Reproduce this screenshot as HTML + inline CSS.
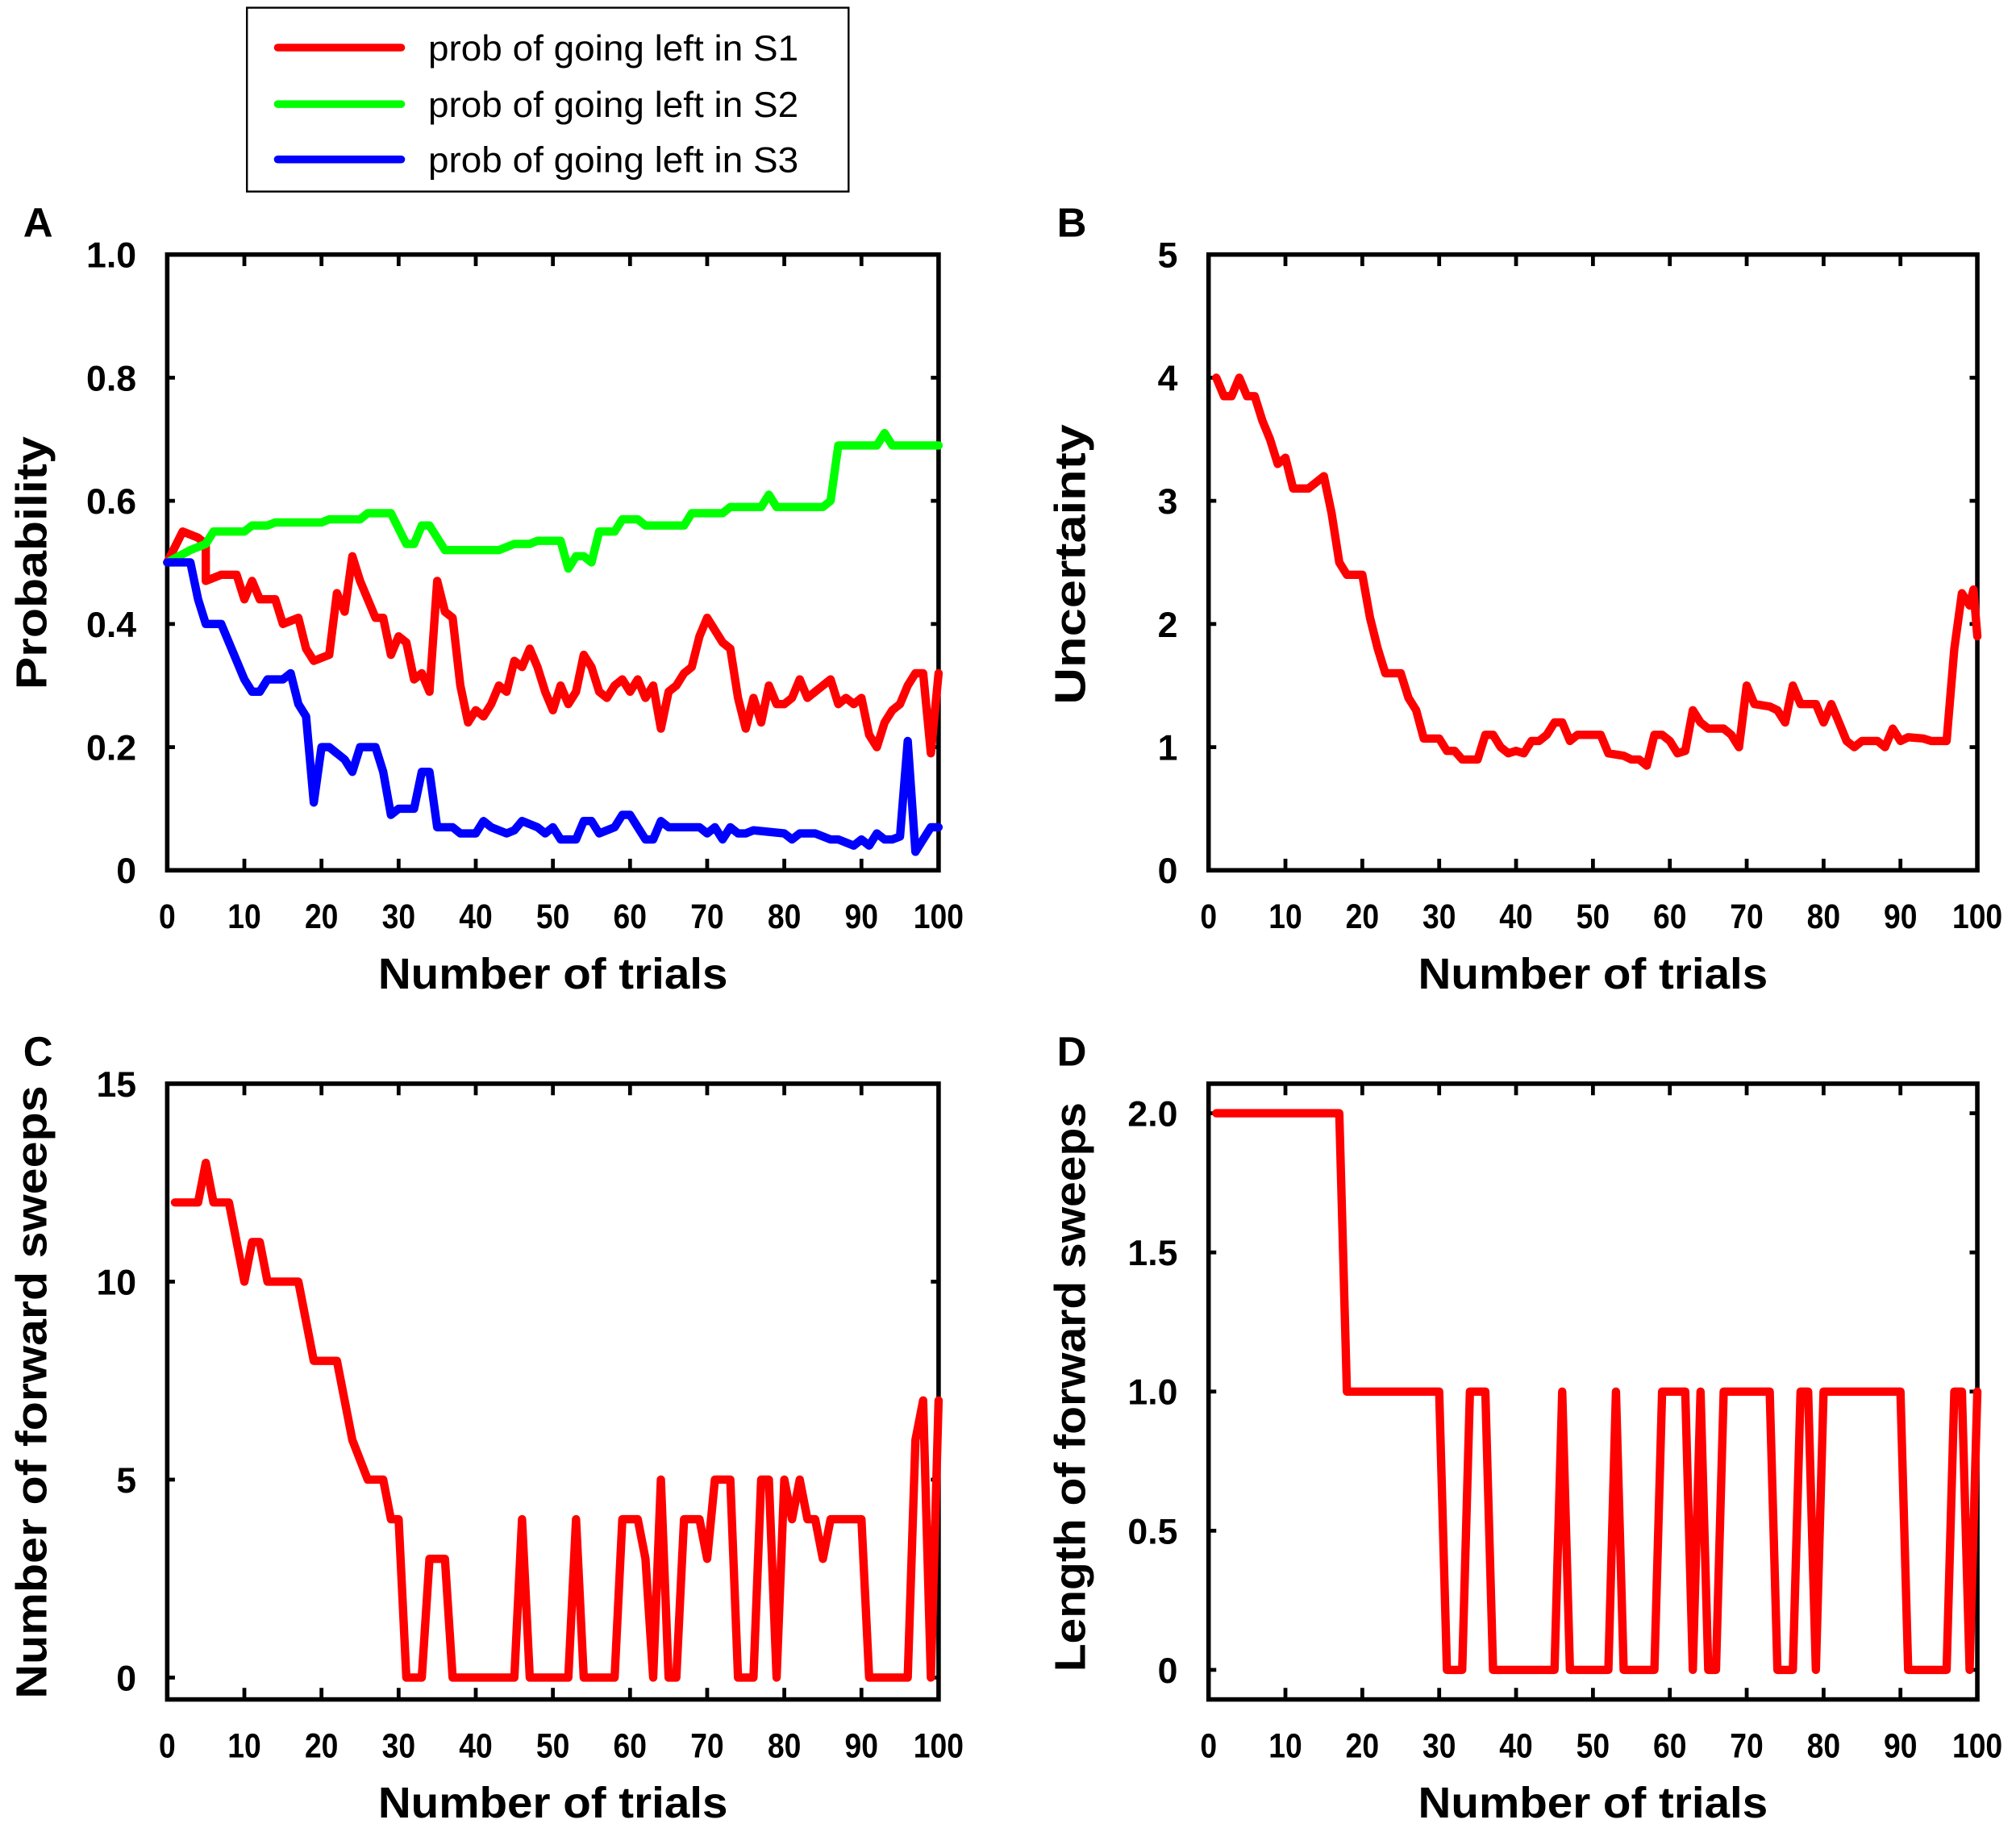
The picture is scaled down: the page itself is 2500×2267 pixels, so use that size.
<!DOCTYPE html>
<html><head><meta charset="utf-8"><style>
html,body{margin:0;padding:0;background:#fff}
svg{display:block}
text{font-family:"Liberation Sans",sans-serif;font-weight:bold;fill:#000}
</style></head><body>
<svg id="s" xmlns="http://www.w3.org/2000/svg" width="2500" height="2267" viewBox="0 0 1568 1422">
<rect width="1568" height="1422" fill="#fff"/>
<rect x="192" y="6" width="468" height="143" fill="#fff" stroke="#000" stroke-width="1.5"/>
<line x1="216" y1="37" x2="312" y2="37" stroke="#f00" stroke-width="6" stroke-linecap="round"/>
<line x1="216" y1="81" x2="312" y2="81" stroke="#0f0" stroke-width="6" stroke-linecap="round"/>
<line x1="216" y1="124" x2="312" y2="124" stroke="#00f" stroke-width="6" stroke-linecap="round"/>
<text x="333" y="47" font-size="28" textLength="288" lengthAdjust="spacingAndGlyphs" style="font-weight:normal">prob of going left in S1</text>
<text x="333" y="91" font-size="28" textLength="288" lengthAdjust="spacingAndGlyphs" style="font-weight:normal">prob of going left in S2</text>
<text x="333" y="134" font-size="28" textLength="288" lengthAdjust="spacingAndGlyphs" style="font-weight:normal">prob of going left in S3</text>
<text x="18" y="184" font-size="32">A</text>
<text x="822" y="184" font-size="32">B</text>
<text x="18" y="829" font-size="32">C</text>
<text x="822" y="829" font-size="32">D</text>
<g id="g"></g>
</svg>
<script>
var NS="http://www.w3.org/2000/svg",g=document.getElementById('g');
function el(t,a,txt){var e=document.createElementNS(NS,t);for(var k in a)e.setAttribute(k,a[k]);if(txt!=null)e.textContent=txt;g.appendChild(e);return e;}
function panel(p){
 var x0=p.x0,x1=p.x1,y0=p.y0,y1=p.y1;
 el('rect',{x:x0,y:y0,width:x1-x0,height:y1-y0,fill:'none',stroke:'#000','stroke-width':3.5});
 var tx=function(t){return x0+(x1-x0)*t/100;};
 for(var t=0;t<=100;t+=10){var X=tx(t);
  if(t>0&&t<100){el('line',{x1:X,y1:y0,x2:X,y2:y0+9,stroke:'#000','stroke-width':3});el('line',{x1:X,y1:y1,x2:X,y2:y1-9,stroke:'#000','stroke-width':3});}
  var s=String(t);
  el('text',{x:X,y:y1+45,'font-size':27,'text-anchor':'middle',textLength:(s.length*13),lengthAdjust:'spacingAndGlyphs'},s);}
 p.yt.forEach(function(v){var Y=p.ym(v[0]);
  el('line',{x1:x0,y1:Y,x2:x0+6,y2:Y,stroke:'#000','stroke-width':3});el('line',{x1:x1,y1:Y,x2:x1-6,y2:Y,stroke:'#000','stroke-width':3});
  el('text',{x:x0-24,y:Y+10,'font-size':28,'text-anchor':'end'},v[1]);});
 el('text',{x:(x0+x1)/2-136,y:y1+92,'font-size':34,textLength:272,lengthAdjust:'spacingAndGlyphs'},'Number of trials');
 el('text',{x:-p.ll/2,y:0,'font-size':34,textLength:p.ll,lengthAdjust:'spacingAndGlyphs',transform:'translate('+p.lx+','+p.lc+') rotate(-90)'},p.label);
 p.series.forEach(function(s){var pts=[];for(var i=0;i<s.d.length;i+=2)pts.push(tx(s.d[i]).toFixed(1)+','+p.ym(s.d[i+1]).toFixed(1));
  el('polyline',{points:pts.join(' '),fill:'none',stroke:s.c,'stroke-width':6.5,'stroke-linejoin':'round','stroke-linecap':'round'});});
}
var red=[0,.5,2,.55,4,.54,5,.53,5,.47,7,.48,9,.48,10,.44,11,.47,12,.44,14,.44,15,.4,17,.41,18,.36,19,.34,21,.35,22,.45,23,.42,24,.51,25,.47,27,.41,28,.41,29,.35,30,.38,31,.37,32,.31,33,.32,34,.29,35,.47,36,.42,37,.41,38,.3,39,.24,40,.26,41,.25,42,.27,43,.3,44,.29,45,.34,46,.33,47,.36,48,.33,49,.29,50,.26,51,.3,52,.27,53,.29,54,.35,55,.33,56,.29,57,.28,58,.3,59,.31,60,.29,61,.31,62,.28,63,.3,64,.23,65,.29,66,.3,67,.32,68,.33,69,.38,70,.41,71,.39,72,.37,73,.36,74,.28,75,.23,76,.28,77,.24,78,.3,79,.27,80,.27,81,.28,82,.31,83,.28,84,.29,85,.3,86,.31,87,.27,88,.28,89,.27,90,.28,91,.22,92,.2,93,.24,94,.26,95,.27,96,.3,97,.32,98,.32,99,.19,100,.32];
var green=[0,.5,3,.52,5,.53,6,.55,10,.55,11,.56,13,.56,14,.565,20,.565,21,.57,25,.57,26,.58,29,.58,31,.53,32,.53,33,.56,34,.56,36,.52,43,.52,45,.53,47,.53,48,.535,51,.535,52,.49,53,.51,54,.51,55,.5,56,.55,58,.55,59,.57,61,.57,62,.56,67,.56,68,.58,72,.58,73,.59,77,.59,78,.61,79,.59,85,.59,86,.6,87,.69,92,.69,93,.71,94,.69,100,.69];
var blue=[0,.5,3,.5,4,.44,5,.4,7,.4,8,.37,9,.34,10,.31,11,.29,12,.29,13,.31,15,.31,16,.32,17,.27,18,.25,19,.11,20,.2,21,.2,23,.18,24,.16,25,.2,27,.2,28,.16,29,.09,30,.1,32,.1,33,.16,34,.16,35,.07,37,.07,38,.06,40,.06,41,.08,42,.07,44,.06,45,.065,46,.08,48,.07,49,.06,50,.07,51,.05,53,.05,54,.08,55,.08,56,.06,58,.07,59,.09,60,.09,61,.07,62,.05,63,.05,64,.08,65,.07,69,.07,70,.06,71,.07,72,.05,73,.07,74,.06,75,.06,76,.065,80,.06,81,.05,82,.06,84,.06,86,.05,87,.05,89,.04,90,.05,91,.04,92,.06,93,.05,94,.05,95,.055,96,.21,97,.03,98,.05,99,.07,100,.07];
panel({x0:130,x1:730,y0:198,y1:677,ym:function(v){return 677-479*v;},lx:36,lc:438,ll:197,label:'Probability',
 yt:[[0,'0'],[.2,'0.2'],[.4,'0.4'],[.6,'0.6'],[.8,'0.8'],[1,'1.0']],
 series:[{c:'#f00',d:red},{c:'#0f0',d:green},{c:'#00f',d:blue}]});
var b=[1,4,2,3.85,3,3.85,4,4,5,3.85,6,3.85,7,3.65,8,3.5,9,3.3,10,3.35,11,3.1,13,3.1,14,3.15,15,3.2,16,2.9,17,2.5,18,2.4,20,2.4,21,2.05,22,1.8,23,1.6,25,1.6,26,1.4,27,1.3,28,1.07,30,1.07,31,0.97,32,0.97,33,0.9,35,0.9,36,1.1,37,1.1,38,1.0,39,0.95,40,0.97,41,0.95,42,1.05,43,1.05,44,1.1,45,1.2,46,1.2,47,1.05,48,1.1,49,1.1,51,1.1,52,0.95,54,0.93,55,0.9,56,0.9,57,0.85,58,1.1,59,1.1,60,1.05,61,0.95,62,0.97,63,1.3,64,1.2,65,1.15,67,1.15,68,1.1,69,1.0,70,1.5,71,1.35,73,1.33,74,1.3,75,1.2,76,1.5,77,1.35,79,1.35,80,1.2,81,1.35,82,1.2,83,1.05,84,1.0,85,1.05,87,1.05,88,1.0,89,1.15,90,1.05,91,1.08,93,1.07,94,1.05,96,1.05,97,1.8,98,2.25,99,2.15,99.5,2.28,100,1.9];
panel({x0:940,x1:1538,y0:198,y1:677,ym:function(v){return 677-95.8*v;},lx:844,lc:439,ll:218,label:'Uncertainty',
 yt:[[0,'0'],[1,'1'],[2,'2'],[3,'3'],[4,'4'],[5,'5']],series:[{c:'#f00',d:b}]});
var c=[1,12,4,12,5,13,6,12,8,12,10,10,11,11,12,11,13,10,17,10,19,8,22,8,24,6,26,5,28,5,29,4,30,4,31,0,33,0,34,3,36,3,37,0,45,0,46,4,47,0,52,0,53,4,54,0,58,0,59,4,61,4,62,3,63,0,64,5,65,0,66,0,67,4,69,4,70,3,71,5,73,5,74,0,76,0,77,5,78,5,79,0,80,5,81,4,82,5,83,4,84,4,85,3,86,4,90,4,91,0,96,0,97,6,98,7,99,0,100,7];
panel({x0:130,x1:730,y0:843,y1:1322,ym:function(v){return 1305-30.8*v;},lx:36,lc:1083,ll:477,label:'Number of forward sweeps',
 yt:[[0,'0'],[5,'5'],[10,'10'],[15,'15']],series:[{c:'#f00',d:c}]});
var d=[1,2,17,2,18,1,30,1,31,0,33,0,34,1,36,1,37,0,45,0,46,1,47,0,52,0,53,1,54,0,58,0,59,1,62,1,63,0,64,1,65,0,66,0,67,1,73,1,74,0,76,0,77,1,78,1,79,0,80,1,90,1,91,0,96,0,97,1,98,1,99,0,100,1];
panel({x0:940,x1:1538,y0:843,y1:1322,ym:function(v){return 1299-216.5*v;},lx:844,lc:1079,ll:443,label:'Length of forward sweeps',
 yt:[[0,'0'],[.5,'0.5'],[1,'1.0'],[1.5,'1.5'],[2,'2.0']],series:[{c:'#f00',d:d}]});
</script>
</body></html>
